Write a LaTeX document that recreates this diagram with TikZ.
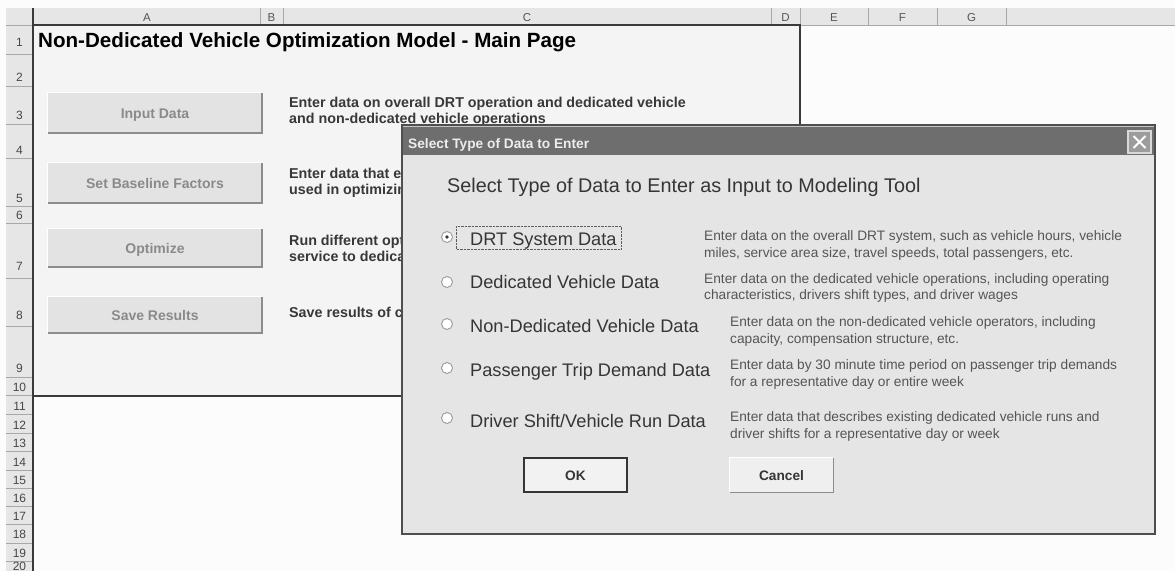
\documentclass[tikz,border=0pt]{standalone}
\usepackage{fontspec}
\setmainfont{Liberation Sans}
\usetikzlibrary{calc}
\definecolor{page}{HTML}{F4F4F4}
\definecolor{outside}{HTML}{FCFCFC}
\definecolor{hdrfill}{HTML}{E6E6E6}
\definecolor{hdrline}{HTML}{A8A8A8}
\definecolor{hdrtext}{HTML}{555555}
\definecolor{rowtext}{HTML}{474747}
\definecolor{frame}{HTML}{3A3A3A}
\definecolor{btnfill}{HTML}{E3E3E3}
\definecolor{btnshadow}{HTML}{8C8C8C}
\definecolor{btntext}{HTML}{8A8A8A}
\definecolor{desctext}{HTML}{383838}
\definecolor{dlgbody}{HTML}{E5E5E5}
\definecolor{dlgborder}{HTML}{4E4E4E}
\definecolor{titlebar}{HTML}{6E6E6E}
\definecolor{titletext}{HTML}{EDEDED}
\definecolor{dlgtext}{HTML}{353535}
\definecolor{dlgdesc}{HTML}{555555}
\definecolor{radioline}{HTML}{A0A0A0}
\definecolor{closefill}{HTML}{9C9C9C}
\newcommand{\btnedge}[1]{%
  \draw[white,line width=1pt] (#1.south west) -- (#1.north west) -- (#1.north east);
  \draw[btnshadow,line width=1.6pt] (#1.south west) -- (#1.south east) -- (#1.north east);}
\begin{document}
\begin{tikzpicture}[x=1pt,y=-1pt,
  hdrlbl/.style={font=\fontsize{11.5}{12}\selectfont, text=hdrtext, anchor=base, inner sep=0pt},
  rowlbl/.style={font=\fontsize{12}{12}\selectfont, text=rowtext, anchor=base, inner sep=0pt},
  mbtn/.style={fill=btnfill, minimum width=214pt, inner sep=0pt, font=\bfseries\fontsize{14}{14}\selectfont, text=btntext, text height=10pt, text depth=0pt},
  mdesc/.style={font=\bfseries\fontsize{14.3}{16}\selectfont, text=desctext, anchor=base west, inner sep=0pt},
  optlabel/.style={font=\fontsize{18.2}{20}\selectfont, text=dlgtext, anchor=base west, inner sep=0pt},
  odesc/.style={font=\fontsize{13.7}{16}\selectfont, text=dlgdesc, anchor=base west, inner sep=0pt},
  radio/.style={circle, minimum size=11pt, inner sep=0pt, fill=white, draw=radioline, line width=1pt},
  dbtn/.style={minimum width=103pt, minimum height=34pt, inner sep=0pt, font=\bfseries\fontsize{13.7}{14}\selectfont, text=dlgtext, text height=10pt, text depth=0pt}
]
\useasboundingbox (0,0) rectangle (1175,571);
\fill[outside] (0,0) rectangle (1175,571);
% header row and row-number column
\fill[hdrfill] (6,8) rectangle (1175,25);
\fill[hdrfill] (6,25) rectangle (33,571);
% main page area
\fill[page] (33,25) rectangle (800,396);
\foreach \x in {260,283,771,800,868,937,1006} \draw[hdrline] (\x,8) -- (\x,25);
\draw[hdrline] (6,25) -- (1175,25);
\foreach \y in {54,86,124,158,206,223,278,326,377,395,414,433,451,470,488,506,524,543,561}
  \draw[hdrline] (6,\y) -- (33,\y);
\draw[frame,line width=2pt] (33,8) -- (33,571);
\draw[frame,line width=2pt] (33,25) -- (800,25) -- (800,396) -- (33,396);
% column letters
\node[hdrlbl] (hA) at (147,21) {A};
\node[hdrlbl] (hB) at (271.5,21) {B};
\node[hdrlbl] (hC) at (527,21) {C};
\node[hdrlbl] (hD) at (785.5,21) {D};
\node[hdrlbl] (hE) at (834,21) {E};
\node[hdrlbl] (hF) at (902.5,21) {F};
\node[hdrlbl] (hG) at (971.5,21) {G};
% row numbers
\foreach \n/\y in {1/46.5,2/81.5,3/119.5,4/154.5,5/202.5,6/219.5,7/270.5,8/319.5,9/372.5,10/391.5,11/410.5,12/429.5,13/447.5,14/466.5,15/484.5,16/502.5,17/520.5,18/538.5,19/557.5,20/570.5}
  \node[rowlbl] (row\n) at (19.5,\y) {\n};
% title
\node[anchor=base west, inner sep=0pt, font=\bfseries\fontsize{20.6}{24}\selectfont] (title) at (38,47) {Non-Dedicated Vehicle Optimization Model - Main Page};
% main page buttons
\node[mbtn, minimum height=40pt] (bInput) at (155,113) {Input Data};
\node[mbtn, minimum height=40pt] (bBase) at (155,183) {Set Baseline Factors};
\node[mbtn, minimum height=38pt] (bOpt) at (155,248) {Optimize};
\node[mbtn, minimum height=36pt] (bSave) at (155,315) {Save Results};
\btnedge{bInput}\btnedge{bBase}\btnedge{bOpt}\btnedge{bSave}
% main page descriptions
\node[mdesc] (d1a) at (289,107) {Enter data on overall DRT operation and dedicated vehicle};
\node[mdesc] (d1b) at (289,123) {and non-dedicated vehicle operations};
\node[mdesc] (d2a) at (289,178) {Enter data that e};
\node[mdesc] (d2b) at (289,194) {used in optimizin};
\node[mdesc] (d3a) at (289,245) {Run different opt};
\node[mdesc] (d3b) at (289,261) {service to dedica};
\node[mdesc] (d4a) at (289,317) {Save results of c};
% dialog
\filldraw[fill=dlgbody, draw=dlgborder, line width=2pt] (402,125) rectangle (1155,534);
\fill[titlebar] (403,126) rectangle (1154,155);
\draw[white!60!titlebar] (403,126.5) -- (1154,126.5);
\node[anchor=base west, inner sep=0pt, font=\bfseries\fontsize{13.7}{16}\selectfont, text=titletext] (dlgtitle) at (408,148) {Select Type of Data to Enter};
\node[fill=closefill, draw=white!85!black, line width=1.2pt, minimum width=23pt, minimum height=22pt, inner sep=0pt] (close) at (1139.5,142) {};
\draw[white, line width=1.8pt] ($(close.center)+(-6,-6)$) -- ($(close.center)+(6,6)$);
\draw[white, line width=1.8pt] ($(close.center)+(-6,6)$) -- ($(close.center)+(6,-6)$);
\node[anchor=base west, inner sep=0pt, font=\fontsize{19.8}{22}\selectfont, text=dlgtext] (head) at (447,192) {Select Type of Data to Enter as Input to Modeling Tool};
% options
\node[radio] (r1) at (447,237) {};
\fill[dlgtext] (r1.center) circle (1.8);
\node[radio] (r2) at (447,282) {};
\node[radio] (r3) at (447,324) {};
\node[radio] (r4) at (447,368) {};
\node[radio] (r5) at (447,418) {};
\draw[dlgtext!80!white, densely dotted] (456,226) rectangle (621,249);
\node[optlabel] (o1) at (470,245) {DRT System Data};
\node[optlabel] (o2) at (470,288) {Dedicated Vehicle Data};
\node[optlabel] (o3) at (470,332) {Non-Dedicated Vehicle Data};
\node[optlabel] (o4) at (470,376) {Passenger Trip Demand Data};
\node[optlabel] (o5) at (470,427) {Driver Shift/Vehicle Run Data};
% option descriptions
\node[odesc] (e1a) at (704,240) {Enter data on the overall DRT system, such as vehicle hours, vehicle};
\node[odesc] (e1b) at (704,257) {miles, service area size, travel speeds, total passengers, etc.};
\node[odesc] (e2a) at (704,283) {Enter data on the dedicated vehicle operations, including operating};
\node[odesc] (e2b) at (704,299) {characteristics, drivers shift types, and driver wages};
\node[odesc] (e3a) at (730,326) {Enter data on the non-dedicated vehicle operators, including};
\node[odesc] (e3b) at (730,343) {capacity, compensation structure, etc.};
\node[odesc] (e4a) at (730,369) {Enter data by 30 minute time period on passenger trip demands};
\node[odesc] (e4b) at (730,386) {for a representative day or entire week};
\node[odesc] (e5a) at (730,421) {Enter data that describes existing dedicated vehicle runs and};
\node[odesc] (e5b) at (730,438) {driver shifts for a representative day or week};
% dialog buttons
\node[dbtn, fill=white!50!dlgbody, draw=dlgtext, line width=1.3pt] (ok) at (575.5,475) {OK};
\node[dbtn, fill=white!40!dlgbody] (cancel) at (781.5,475) {Cancel};
\draw[white, line width=1pt] (cancel.south west) -- (cancel.north west) -- (cancel.north east);
\draw[btnshadow, line width=1.4pt] (cancel.south west) -- (cancel.south east) -- (cancel.north east);
\end{tikzpicture}
\end{document}
